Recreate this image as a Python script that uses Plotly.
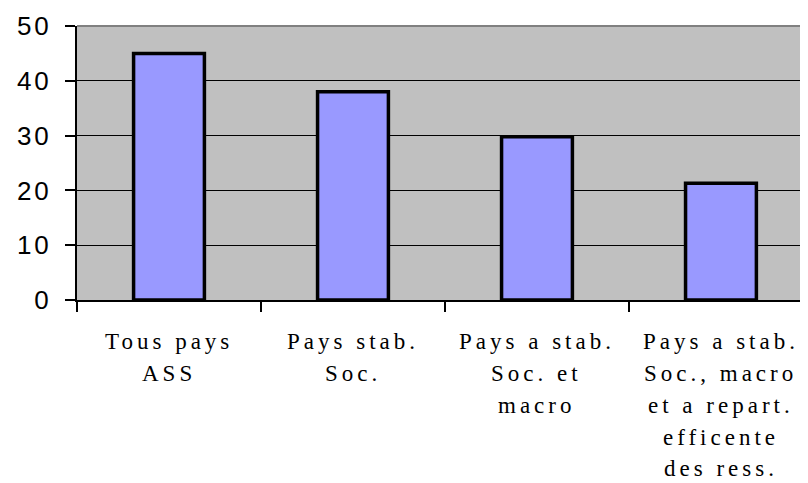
import plotly.graph_objects as go

# each category label, split into its printed lines
CATEGORY_LINES = [
    ["Tous pays", "ASS"],
    ["Pays stab.", "Soc."],
    ["Pays a stab.", "Soc. et", "macro"],
    ["Pays a stab.", "Soc., macro", "et a repart.", "efficente", "des ress."],
]
CATEGORIES = ["<br>".join(lines) for lines in CATEGORY_LINES]
VALUES = [45, 38, 29.8, 21.3]
Y_TICKS = [0, 10, 20, 30, 40, 50]

BAR_FILL = "#9999FF"
PLOT_BG = "#C0C0C0"
SERIF = "Liberation Serif, Times New Roman, serif"
SANS = "Liberation Sans, Arial, sans-serif"

# page body adds an 8px margin, so the figure is 8px smaller than the window
FIG_W, FIG_H = 800, 475
MARGIN = dict(l=69, r=0, t=18, b=183)
PLOT_H = FIG_H - MARGIN["t"] - MARGIN["b"]
FIRST_LINE_PX = 41       # centre of first label line below the x axis
LINE_STEP_PX = 32

fig = go.Figure()
fig.add_trace(
    go.Bar(
        x=CATEGORIES,
        y=VALUES,
        width=0.385,
        marker=dict(color=BAR_FILL, line=dict(color="black", width=3.5)),
        showlegend=False,
        hoverinfo="skip",
    )
)

# category labels drawn line by line to get the wide line spacing
for cat, lines in zip(CATEGORIES, CATEGORY_LINES):
    for i, line in enumerate(lines):
        fig.add_annotation(
            x=cat, xref="x",
            y=-(FIRST_LINE_PX + i * LINE_STEP_PX) / PLOT_H, yref="paper",
            text=line, showarrow=False,
            xanchor="center", yanchor="middle",
            font=dict(family=SERIF, size=23, color="black"),
        )

fig.update_layout(
    width=FIG_W,
    height=FIG_H,
    paper_bgcolor="white",
    plot_bgcolor=PLOT_BG,
    margin=MARGIN,
)
fig.update_xaxes(
    type="category",
    range=[-0.5, 3.473],
    automargin=False,
    showline=True,
    linecolor="black",
    linewidth=2,
    ticks="outside",
    tickson="boundaries",
    ticklen=10,
    tickcolor="black",
    tickwidth=2,
    showgrid=False,
    showticklabels=False,
)
fig.update_yaxes(
    range=[0, 50],
    tickvals=Y_TICKS,
    automargin=False,
    showline=True,
    linecolor="black",
    linewidth=2,
    ticks="outside",
    ticklen=10,
    tickcolor="black",
    tickwidth=2,
    showgrid=True,
    gridcolor="black",
    gridwidth=1,
    zeroline=False,
    ticklabelstandoff=8,
    tickfont=dict(family=SANS, size=26, color="black"),
)
# grey frame line along the top of the plot area
fig.add_shape(type="line", xref="paper", yref="paper", x0=0, x1=1, y0=1, y1=1,
              line=dict(color="#808080", width=2))

# the source labels are widely letter-spaced
post = """
var gd = document.getElementById('{plot_id}');
gd.querySelectorAll('.annotation-text').forEach(function (t) {
  t.style.letterSpacing = '4px';
});
gd.querySelectorAll('.ytick text').forEach(function (t) {
  t.style.letterSpacing = '3px';
});
"""
fig.write_html("out.html", post_script=post)
